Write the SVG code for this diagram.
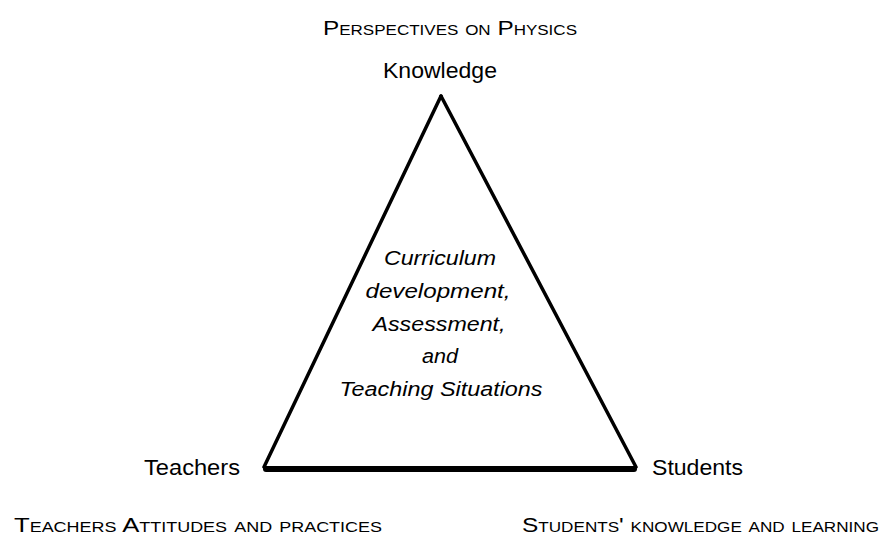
<svg xmlns="http://www.w3.org/2000/svg" width="884" height="538" viewBox="0 0 884 538">
<style>
  .lbl { font-family: "Liberation Sans Narrow", "Liberation Sans", Arial, sans-serif; fill: #000; }
  .sc { font-variant: small-caps; font-size: 20px; }
  .vx { font-size: 22px; }
  .it { font-style: italic; font-size: 20px; text-anchor: middle; }
  .edge { stroke: #000; stroke-width: 3.5; stroke-linecap: round; fill: none; }
  .base { stroke: #000; stroke-width: 6; stroke-linecap: round; fill: none; }
</style>
<rect width="884" height="538" fill="#fff"/>
<g id="connectors">
  <line class="edge" x1="441" y1="96" x2="264" y2="467"/>
  <line class="edge" x1="441" y1="96" x2="636" y2="467"/>
  <line class="base" x1="266" y1="469" x2="634" y2="469"/>
</g>
<g id="node-knowledge">
  <text class="lbl sc" x="323" y="35" textLength="254" lengthAdjust="spacingAndGlyphs">Perspectives on Physics</text>
  <text class="lbl vx" x="383" y="78" textLength="114" lengthAdjust="spacingAndGlyphs">Knowledge</text>
</g>
<g id="node-center">
  <text class="lbl it" x="440" y="265" textLength="112" lengthAdjust="spacingAndGlyphs">Curriculum</text>
  <text class="lbl it" x="438" y="298" textLength="145" lengthAdjust="spacingAndGlyphs">development,</text>
  <text class="lbl it" x="439" y="331" textLength="133" lengthAdjust="spacingAndGlyphs">Assessment,</text>
  <text class="lbl it" x="440" y="363" textLength="36" lengthAdjust="spacingAndGlyphs">and</text>
  <text class="lbl it" x="441" y="396" textLength="203" lengthAdjust="spacingAndGlyphs">Teaching Situations</text>
</g>
<g id="node-teachers">
  <text class="lbl vx" x="144" y="475" textLength="96" lengthAdjust="spacingAndGlyphs">Teachers</text>
  <text class="lbl sc" x="14" y="532" textLength="368" lengthAdjust="spacingAndGlyphs">Teachers Attitudes and practices</text>
</g>
<g id="node-students">
  <text class="lbl vx" x="652" y="475" textLength="91" lengthAdjust="spacingAndGlyphs">Students</text>
  <text class="lbl sc" x="522" y="532" textLength="357" lengthAdjust="spacingAndGlyphs">Students' knowledge and learning</text>
</g>
</svg>
